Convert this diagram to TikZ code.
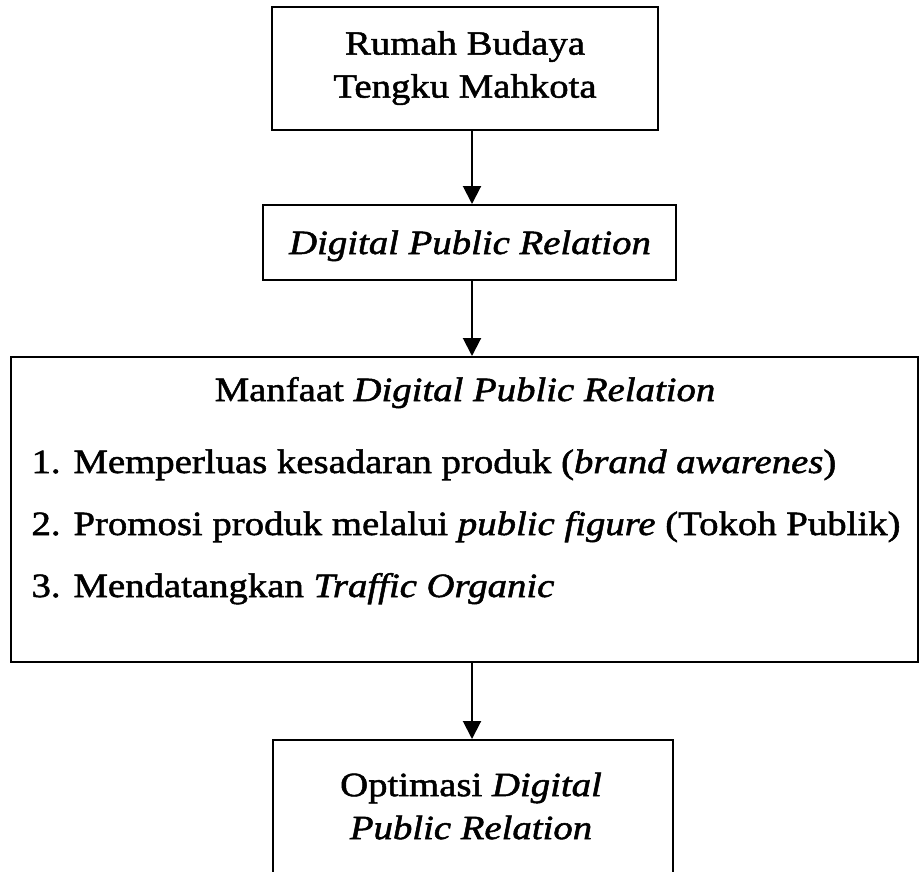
\documentclass[tikz,border=0pt]{standalone}
\usepackage{fontspec}
\setmainfont{Liberation Serif}[FakeStretch=1.14,FakeBold=1.5]
\usetikzlibrary{arrows.meta}

\begin{document}
\begin{tikzpicture}[x=1pt,y=-1pt,
    kotak/.style={draw,line width=2pt,inner sep=0pt},
    teks/.style={font=\fontsize{34}{43}\selectfont},
    panah/.style={line width=2pt,-{Triangle[length=18pt,width=18pt]}}]
    \useasboundingbox (0,0) rectangle (920,871);
    \clip (0,0) rectangle (920,871);

    \node[kotak,minimum width=386pt,minimum height=123pt] (rumah) at (465,68.5) {};
    \node[teks,align=center] (rumahteks) at (465,68) {Rumah Budaya\\Tengku Mahkota};

    \node[kotak,minimum width=413pt,minimum height=75pt] (dpr) at (469.5,242.5) {};
    \node[teks,anchor=base] (dprteks) at (470,254) {\textit{Digital Public Relation}};

    \node[kotak,minimum width=907pt,minimum height=305pt] (manfaat) at (464.5,509.5) {};
    \node[teks,anchor=base] (judul) at (465,401) {Manfaat \textit{Digital Public Relation}};
    \node[teks,anchor=base west] (poin1) at (28,473) {1. Memperluas kesadaran produk (\textit{brand awarenes})};
    \node[teks,anchor=base west] (poin2) at (28,535) {2. Promosi produk melalui \textit{public figure} (Tokoh Publik)};
    \node[teks,anchor=base west] (poin3) at (28,597) {3. Mendatangkan \textit{Traffic Organic}};

    \node[kotak,minimum width=400pt,minimum height=220pt] (optimasi) at (473,850) {};
    \node[teks,align=center] (optimasiteks) at (471,806) {Optimasi \textit{Digital}\\\textit{Public Relation}};

    \coordinate (tengah) at (472,0);
    \draw[panah] (rumah.south -| tengah) -- (dpr.north -| tengah);
    \draw[panah] (dpr.south -| tengah) -- (manfaat.north -| tengah);
    \draw[panah] (manfaat.south -| tengah) -- (optimasi.north -| tengah);
\end{tikzpicture}
\end{document}
